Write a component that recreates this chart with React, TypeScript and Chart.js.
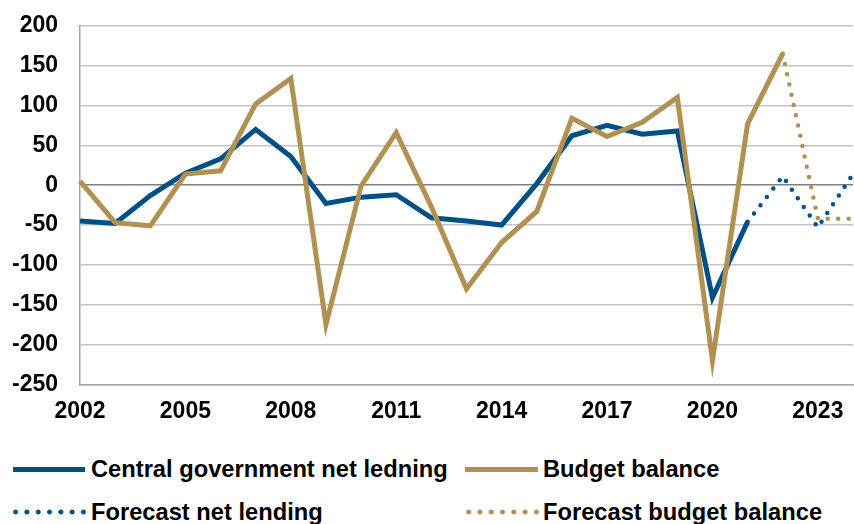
import React, { useEffect, useRef } from "react";
import { Chart, registerables } from "chart.js";

Chart.register(...registerables);

const years = [
  2002, 2003, 2004, 2005, 2006, 2007, 2008, 2009, 2010, 2011, 2012, 2013,
  2014, 2015, 2016, 2017, 2018, 2019, 2020, 2021, 2022, 2023, 2024,
];
const xTickLabels = ["2002", "2005", "2008", "2011", "2014", "2017", "2020", "2023"];

// 2002–2021
const netLending = [
  -45, -48, -13, 15, 33, 70, 36, -23, -15, -12, -41, -45, -50, 2, 62, 75, 64, 68, -141, -46,
];
// 2021–2024
const netLendingForecast = [-46, 11, -53, 14];
// 2002–2022
const budgetBalance = [
  5, -47, -51, 14, 18, 102, 134, -175, -1, 66, -27, -130, -72, -33, 84, 61, 79, 110, -220, 77, 165,
];
// 2022–2024
const budgetForecast = [165, -42, -42];

const BLUE = "#004f86";
const GOLD = "#b09152";
const FONT = "'Liberation Sans', Arial, sans-serif";

function placeFrom(startYear: number, values: number[]) {
  return years.map((y) => {
    const i = y - startYear;
    return i >= 0 && i < values.length ? values[i] : null;
  });
}

export default function App() {
  const ref = useRef<HTMLCanvasElement | null>(null);

  useEffect(() => {
    if (!ref.current) return;
    const chart = new Chart(ref.current, {
      type: "line",
      data: {
        labels: years.map(String),
        datasets: [
          {
            label: "Budget balance",
            data: placeFrom(2002, budgetBalance),
            borderColor: GOLD,
            borderWidth: 5,
            pointRadius: 0,
            order: 0,
          },
          {
            label: "Forecast budget balance",
            data: placeFrom(2022, budgetForecast),
            borderColor: GOLD,
            borderWidth: 4.5,
            borderDash: [0, 10.5],
            borderCapStyle: "round",
            pointRadius: 0,
            order: 1,
          },
          {
            label: "Central government net ledning",
            data: placeFrom(2002, netLending),
            borderColor: BLUE,
            borderWidth: 5,
            pointRadius: 0,
            order: 2,
          },
          {
            label: "Forecast net lending",
            data: placeFrom(2021, netLendingForecast),
            borderColor: BLUE,
            borderWidth: 4.5,
            borderDash: [0, 10.5],
            borderCapStyle: "round",
            pointRadius: 0,
            order: 3,
          },
        ],
      },
      options: {
        animation: false,
        responsive: false,
        maintainAspectRatio: false,
        spanGaps: false,
        layout: { padding: { top: 2, right: 0, bottom: 0, left: 0 } },
        plugins: { legend: { display: false }, tooltip: { enabled: false } },
        scales: {
          x: {
            grid: { display: false, drawTicks: false },
            border: { display: true, color: "#a6a6a6", width: 1.5 },
            ticks: {
              autoSkip: false,
              maxRotation: 0,
              padding: 13,
              color: "#000",
              font: { family: FONT, size: 23, weight: "bold" },
              callback: (_v: any, i: number) => {
                const s = String(years[i]);
                return xTickLabels.includes(s) ? s : "";
              },
            },
          },
          y: {
            min: -250,
            max: 200,
            afterFit: (s: any) => {
              s.width = 80;
            },
            grid: {
              drawTicks: false,
              color: (c: any) => (c.tick && c.tick.value === 0 ? "#7f7f7f" : "#c4c4c4"),
              lineWidth: 1.5,
            },
            border: { display: true, color: "#a6a6a6", width: 1.5 },
            ticks: {
              stepSize: 50,
              padding: 22,
              color: "#000",
              font: { family: FONT, size: 23, weight: "bold" },
            },
          },
        },
      },
    });
    return () => chart.destroy();
  }, []);

  const legendText: React.CSSProperties = {
    position: "absolute",
    fontFamily: FONT,
    fontWeight: "bold",
    fontSize: 23.7,
    color: "#000",
    lineHeight: "26px",
    whiteSpace: "nowrap",
  };
  const solid = (color: string): React.CSSProperties => ({
    position: "absolute",
    height: 5,
    background: color,
  });
  const dotted = (color: string): React.CSSProperties => ({
    position: "absolute",
    height: 6,
    backgroundImage: `radial-gradient(circle, ${color} 2.2px, transparent 2.8px)`,
    backgroundSize: "11.3px 6px",
    backgroundRepeat: "repeat-x",
  });

  return (
    <div
      style={{
        position: "fixed",
        left: 0,
        top: 0,
        width: 854,
        height: 524,
        background: "#fff",
        overflow: "hidden",
      }}
    >
      <canvas
        ref={ref}
        width={866}
        height={448}
        style={{ display: "block", position: "absolute", left: 0, top: -10 }}
      />
      <div style={{ ...solid(BLUE), left: 13, top: 467, width: 72 }} />
      <div style={{ ...legendText, left: 91, top: 456 }}>Central government net ledning</div>
      <div style={{ ...solid(GOLD), left: 465, top: 467, width: 73 }} />
      <div style={{ ...legendText, left: 543, top: 456 }}>Budget balance</div>
      <div style={{ ...dotted(BLUE), left: 10, top: 509, width: 79 }} />
      <div style={{ ...legendText, left: 91, top: 499 }}>Forecast net lending</div>
      <div style={{ ...dotted(GOLD), left: 463, top: 509, width: 79 }} />
      <div style={{ ...legendText, left: 543, top: 499 }}>Forecast budget balance</div>
    </div>
  );
}
